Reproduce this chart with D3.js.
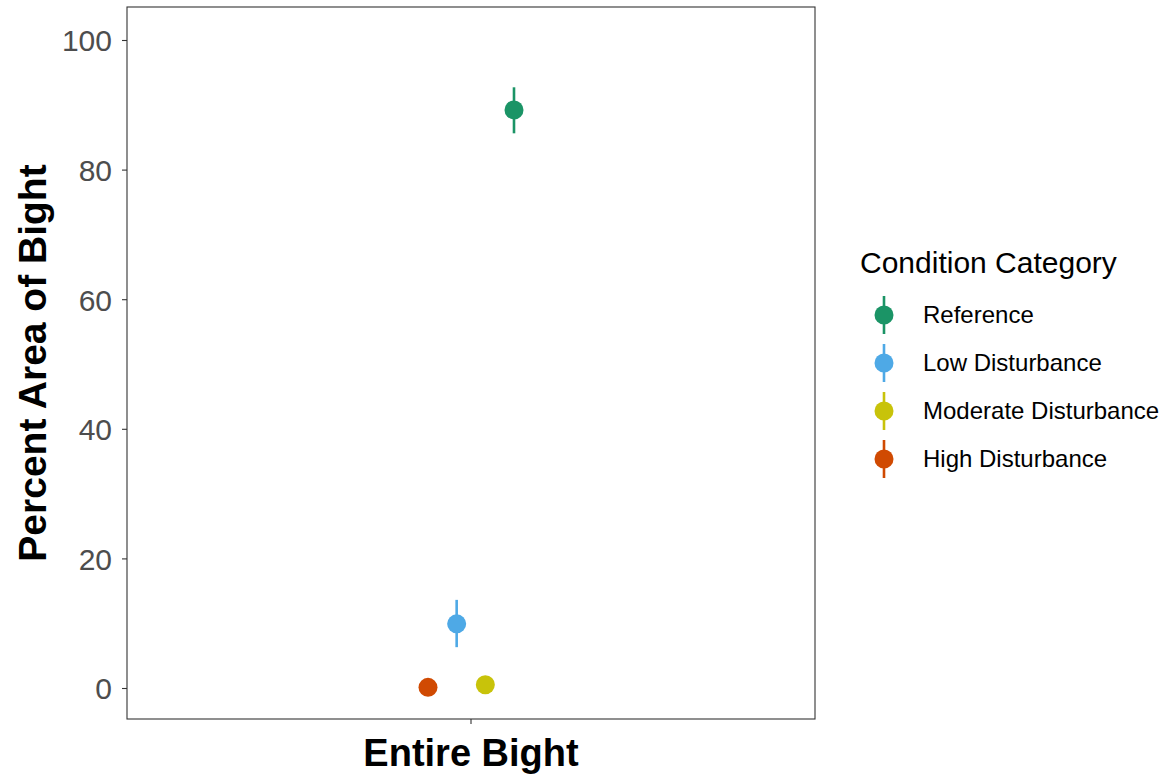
<!DOCTYPE html>
<html><head><meta charset="utf-8">
<script src="https://cdn.jsdelivr.net/npm/d3@7"></script>
<style>body{margin:0;background:#fff}svg{display:block;font-family:"Liberation Sans",Arial,sans-serif}</style>
</head><body><svg id="c" width="1170" height="778"></svg>
<script>
const categories = ["Entire Bight"];
const conditions = ["High Disturbance","Low Disturbance","Moderate Disturbance","Reference"]; // dodge order
const legendOrder = ["Reference","Low Disturbance","Moderate Disturbance","High Disturbance"];
const estimates = [0.1, 9.9, 0.5, 89.2];
const lower = [0.1, 6.3, 0.5, 85.6];
const upper = [0.1, 13.6, 0.5, 92.7];
const colors = {"Reference":"#1b9466","Low Disturbance":"#4ea9e6","Moderate Disturbance":"#c8c30a","High Disturbance":"#d04a02"};
const yTicks = [0,20,40,60,80,100];

const svg = d3.select("#c");
const L=127,R=815,T=7,B=719;
const y = d3.scaleLinear().domain([0,100]).range([688,40]);
const x = d3.scaleBand().domain(categories).range([L,R]).padding(0.2);
const dodge = d3.scalePoint().domain(conditions).range([-43,43]);

svg.append("rect").attr("x",L).attr("y",T).attr("width",R-L).attr("height",B-T)
  .attr("fill","none").attr("stroke","#333").attr("stroke-width",1.1);

const yAxis = svg.append("g").attr("transform",`translate(${L},0)`)
  .call(d3.axisLeft(y).tickValues(yTicks).tickSize(5).tickPadding(10));
yAxis.select(".domain").remove();
yAxis.selectAll("line").attr("stroke","#333").attr("stroke-width",1.1);
yAxis.selectAll("text").attr("fill","#4d4d4d").style("font-size","30px").attr("dy","0.36em");

const xAxis = svg.append("g").attr("transform",`translate(0,${B})`)
  .call(d3.axisBottom(x).tickSize(5).tickPadding(6));
xAxis.select(".domain").remove();
xAxis.selectAll("line").attr("stroke","#333").attr("stroke-width",1.1);
xAxis.selectAll("text").attr("fill","#000").style("font-size","38px").style("font-weight","bold")
  .attr("y",47).attr("dy",null);

svg.append("text").attr("transform","translate(46,363) rotate(-90)").attr("text-anchor","middle")
  .style("font-size","39px").style("font-weight","bold").text("Percent Area of Bight");

const cx = x(categories[0])+x.bandwidth()/2;
const g = svg.append("g");
conditions.forEach((c,i)=>{
  const px = cx + dodge(c);
  g.append("line").attr("x1",px).attr("x2",px).attr("y1",y(lower[i])).attr("y2",y(upper[i]))
    .attr("stroke",colors[c]).attr("stroke-width",2.6);
  g.append("circle").attr("cx",px).attr("cy",y(estimates[i])).attr("r",9.5).attr("fill",colors[c]);
});

const lg = svg.append("g");
lg.append("text").attr("x",860).attr("y",273).style("font-size","30px").attr("fill","#000").text("Condition Category");
legendOrder.forEach((c,i)=>{
  const ly = 315 + i*48;
  lg.append("line").attr("x1",884).attr("x2",884).attr("y1",ly-19).attr("y2",ly+19).attr("stroke",colors[c]).attr("stroke-width",2.6);
  lg.append("circle").attr("cx",884).attr("cy",ly).attr("r",9.5).attr("fill",colors[c]);
  lg.append("text").attr("x",923).attr("y",ly+8).style("font-size","24px").attr("fill","#000").text(c);
});
</script></body></html>
